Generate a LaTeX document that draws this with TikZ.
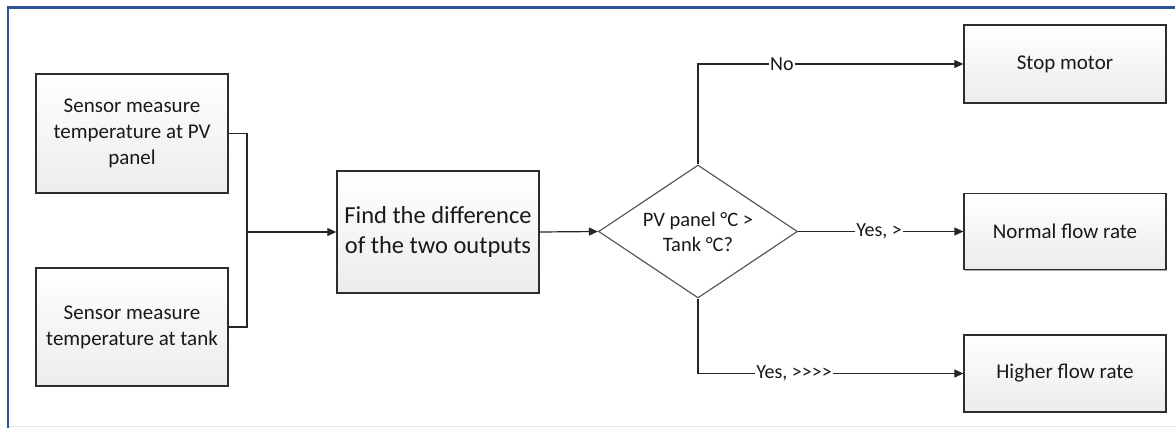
\documentclass[tikz,border=0pt]{standalone}
\usepackage{fontspec}
\setmainfont{Carlito}
\usetikzlibrary{shapes.geometric,arrows.meta,shadows}

\definecolor{frameblue}{RGB}{46,84,150}
\definecolor{framefaint}{RGB}{222,230,240}
\definecolor{boxline}{RGB}{45,45,45}
\definecolor{boxlow}{RGB}{236,236,236}
\definecolor{inktext}{RGB}{25,25,25}
\definecolor{diamline}{RGB}{90,90,90}

\tikzset{
  stepbox/.style={draw=boxline, line width=1.3pt, rectangle,
    top color=white, bottom color=boxlow, text=inktext,
    align=center, inner sep=2pt,
    drop shadow={shadow xshift=1pt, shadow yshift=-1pt, opacity=0.35, fill=black}},
  decision/.style={draw=diamline, line width=1.2pt, diamond, fill=white,
    text=inktext, align=center, inner sep=0pt, aspect=1.5,
    minimum width=199pt, minimum height=133pt},
  flow/.style={draw=black!85, line width=1.2pt,
    -{Triangle[length=9pt,width=8pt]}},
  wire/.style={draw=black!85, line width=1.2pt},
  edgelabel/.style={fill=white, inner sep=1pt, text=inktext,
    font=\fontsize{20}{24}\selectfont}
}

\begin{document}
\begin{tikzpicture}[x=1pt, y=-1pt]
  \useasboundingbox (0,0) rectangle (1175,428);

  % frame
  \draw[framefaint, line width=1.5pt] (8,426.5) -- (1175,426.5);
  \draw[frameblue, line width=2.5pt] (8,428) -- (8,7.5) -- (1175,7.5);

  % sensor inputs
  \node[stepbox, minimum width=192pt, minimum height=119pt,
        font=\fontsize{21}{26}\selectfont] (pv) at (132,133.5)
        {Sensor measure\\temperature at PV\\panel};
  \node[stepbox, minimum width=192pt, minimum height=118pt,
        font=\fontsize{21}{26}\selectfont] (tank) at (132,327)
        {Sensor measure\\temperature at tank};

  % processing
  \node[stepbox, minimum width=202pt, minimum height=122pt,
        font=\fontsize{24.5}{30}\selectfont] (diff) at (438,232)
        {Find the difference\\of the two outputs};

  % decision
  \node[decision, font=\fontsize{20.5}{25}\selectfont] (cmp) at (698,231.5)
        {PV panel °C >\\Tank °C?};

  % outcomes
  \node[stepbox, minimum width=202pt, minimum height=78pt,
        font=\fontsize{21}{26}\selectfont] (stop) at (1065,64) {Stop motor};
  \node[stepbox, minimum width=202pt, minimum height=76pt,
        font=\fontsize{21}{26}\selectfont] (normal) at (1065,231.5) {Normal flow rate};
  \node[stepbox, minimum width=202pt, minimum height=77pt,
        font=\fontsize{21}{26}\selectfont] (higher) at (1065,373.5) {Higher flow rate};

  % joining the two sensor readings
  \coordinate (join) at (247,232);
  \path[wire] (pv.east) -| (join);
  \path[wire] (tank.east) -| (join);
  \path[flow] (join) -- (diff.west);
  \path[flow] (diff.east) -- (cmp.west);

  % decision branches
  \path[flow] (cmp.north) |- node[edgelabel, pos=0.658] {No} (stop.west);
  \path[flow] (cmp.east) -- node[edgelabel, pos=0.49] {Yes, >} (normal.west);
  \path[flow] (cmp.south) |- node[edgelabel, pos=0.681] {Yes, >{}>{}>{}>} (higher.west);
\end{tikzpicture}
\end{document}
